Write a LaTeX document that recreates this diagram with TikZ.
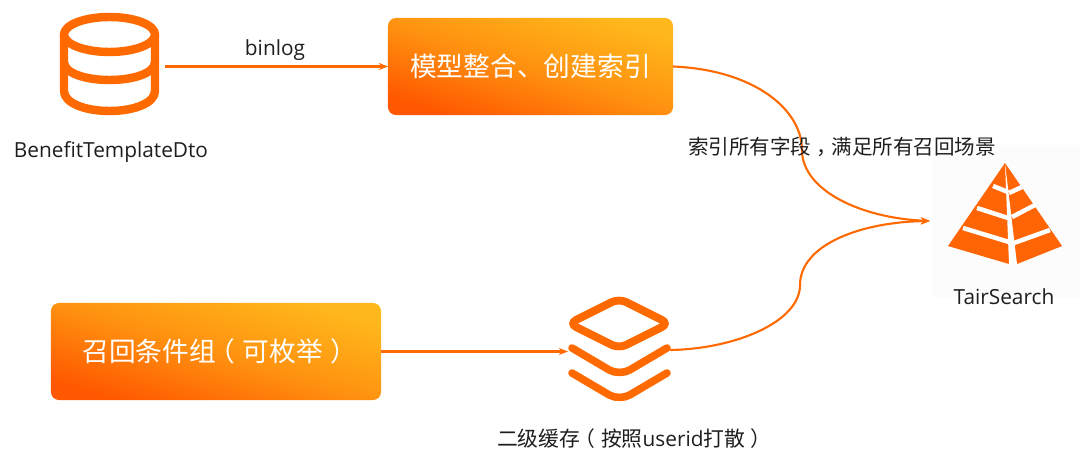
\documentclass[tikz,border=0pt]{standalone}
\usepackage{fontspec}
\setmainfont{Open Sans}
\newfontfamily\cjk{Noto Sans CJK SC}
\usepackage{xcolor}
\usetikzlibrary{arrows.meta, positioning}
\definecolor{flowOrange}{RGB}{255, 106, 0}
\definecolor{iconOrange}{RGB}{255, 100, 5}
\definecolor{boxLow}{RGB}{255, 88, 0}
\definecolor{boxMid}{RGB}{255, 146, 16}
\definecolor{boxHigh}{RGB}{255, 184, 28}
\definecolor{textDark}{RGB}{30, 30, 30}
\definecolor{patchGrey}{RGB}{252, 252, 252}
\newcommand{\openparen}{\kern-.27em（\kern.27em}
\newcommand{\closeparen}{\kern.27em）\kern-.27em}
\newcommand{\midcomma}{\kern.27em，\kern-.27em}

\begin{document}
\begin{tikzpicture}[
		x=0.025cm, y=-0.025cm,
		>={Stealth[length=6.5pt, width=5pt]},
		flow/.style={draw=flowOrange, line width=1.5pt, ->},
		icon/.style={draw=flowOrange, line width=6pt, line join=round},
		chevron/.style={draw=flowOrange, line width=5.4pt, line cap=round, rounded corners=0.3cm},
		gap/.style={draw=white, line width=3.2pt},
		anchorbox/.style={inner sep=0pt, outer sep=0pt},
		gradbox/.style={anchorbox, rounded corners=0.2cm, bottom color=boxLow, top color=boxHigh, middle color=boxMid,
			shading angle=-17, minimum height=2.425cm, text=white, font=\fontsize{19}{23}\selectfont},
		lbl/.style={text=textDark, inner sep=0pt, font=\fontsize{14.8}{18}\selectfont}
	]

	\useasboundingbox (0,0) rectangle (1080,464);

	%% Faint patch behind the pyramid
	\fill[patchGrey] (932,145) rectangle (1080,298);

	%% 1. Database icon
	\node[anchorbox, minimum width=2.75cm, minimum height=2.5cm] (dbIcon) at (110,66.5) {};
	\draw[icon] (109.5,34.5) ellipse [x radius=45.5, y radius=17.5];
	\draw[icon] (64,35) -- (64,91)
		.. controls (64,103) and (85,111) .. (109.5,111)
		.. controls (134,111) and (155,103) .. (155,91) -- (155,35);
	\draw[icon] (64,62)
		.. controls (64,73) and (85,80) .. (109.5,80)
		.. controls (134,80) and (155,73) .. (155,62);
	\node[lbl] (dbLabel) at (111,152) {BenefitTemplateDto};

	%% 2. Model box
	\node[gradbox, minimum width=7.125cm] (modelBox) at (530.5,66.5) {\cjk 模型整合、创建索引};
	\draw[flow] (dbIcon.east) -- (modelBox.west);
	\node[lbl] (binlogLabel) at (275,50) {binlog};

	%% 3. Recall box and cache icon
	\node[gradbox, minimum width=8.25cm] (recallBox) at (216,351.5) {\cjk 召回条件组\openparen 可枚举\closeparen};
	\node[anchorbox, minimum width=2.55cm, minimum height=2.6cm] (stackIcon) at (619,350) {};
	\draw[chevron, line width=5.6pt, rounded corners=0.2cm] (619,298.5) -- (669,323.5) -- (619,348.5) -- (569,323.5) -- cycle;
	\draw[chevron] (572,348) -- (619.5,376) -- (667,348);
	\draw[chevron] (572,373) -- (619.5,401) -- (667,373);
	\draw[flow] (recallBox.east) -- (recallBox.east -| stackIcon.west);
	\node[lbl] (cacheLabel) at (631.5,439) {{\cjk 二级缓存\openparen 按照}userid{\cjk 打散\closeparen}};

	%% 4. TairSearch pyramid
	\node[anchorbox, minimum width=3.75cm, minimum height=2cm] (tairIcon) at (1005,221) {};
	\fill[iconOrange] (1005,163) -- (948,246) -- (1009,264) -- (1017,264) -- (1062,246) -- cycle;
	\fill[white] (1005,163) -- (1009,264) -- (1017,264) -- cycle;
	\draw[gap] (993,186) -- (1008,192);
	\draw[gap] (977,208) -- (1008,218);
	\draw[gap] (963,228) -- (1009,242);
	\draw[gap] (1009,193) -- (1022,187);
	\draw[gap] (1012,217) -- (1035,205);
	\draw[gap] (1014,243) -- (1050,230);
	\node[lbl] (tairLabel) at (1004,296.5) {TairSearch};

	%% Curved connectors
	\draw[flow] (modelBox.east)
		.. controls (755,70) and (802,110) .. (802,150)
		.. controls (802,190) and (860,218) .. (tairIcon.west);
	\draw[flow] (stackIcon.east)
		.. controls (735,349) and (800,322) .. (800,285)
		.. controls (800,245) and (860,222) .. (tairIcon.west);

	\node[lbl, font=\fontsize{14.6}{18}\selectfont] (indexLabel) at (842,147) {\cjk 索引所有字段\midcomma 满足所有召回场景};

\end{tikzpicture}
\end{document}
